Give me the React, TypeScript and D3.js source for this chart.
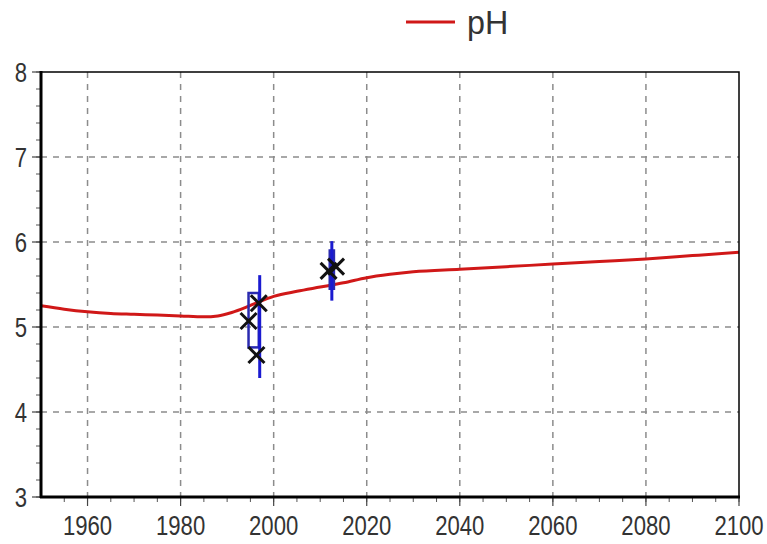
import React from "react";
import * as d3 from "d3";

const lineYears = [1950, 1955, 1960, 1965, 1970, 1975, 1980, 1985, 1988, 1991, 1994, 1997, 2000, 2005, 2010, 2015, 2020, 2025, 2030, 2040, 2050, 2060, 2070, 2080, 2090, 2100];
const lineValues = [5.25, 5.21, 5.18, 5.16, 5.15, 5.14, 5.13, 5.12, 5.13, 5.17, 5.23, 5.3, 5.36, 5.42, 5.47, 5.52, 5.58, 5.62, 5.65, 5.68, 5.71, 5.74, 5.77, 5.8, 5.84, 5.88];

const obsYears = [1994.6, 1996.8, 1996.3, 2011.8, 2013.4];
const obsValues = [5.07, 5.28, 4.67, 5.66, 5.71];

const errYears = [1997, 2012.5];
const errLow = [4.4, 5.31];
const errHigh = [5.61, 6.01];

const boxYears = [1995.7, 2012.5];
const boxWidthYears = [2.2, 0.9];
const boxLow = [4.76, 5.45];
const boxHigh = [5.4, 5.9];

const xTicks = [1960, 1980, 2000, 2020, 2040, 2060, 2080, 2100];
const yTicks = [3, 4, 5, 6, 7, 8];

const W = 767, H = 544;
const L = 41, R = 739, T = 72, B = 497;
const FONT = "'Liberation Sans', Arial, sans-serif";
const SX = 0.82;

export default function App() {
  const x = d3.scaleLinear().domain([1950, 2100]).range([L, R]);
  const y = d3.scaleLinear().domain([3, 8]).range([B, T]);
  const line = d3.line<number>().x((d, i) => x(lineYears[i])).y((d) => y(d)).curve(d3.curveMonotoneX);
  const minorX = d3.range(1955, 2100.1, 5);
  const minorY = d3.range(3, 8.01, 0.2);
  return (
    <div style={{ position: "absolute", left: 0, top: 0 }}>
      <svg width={W} height={H} style={{ display: "block", background: "#fff" }}>
        <rect x={0} y={0} width={W} height={H} fill="#fff" />
        {xTicks.filter((t) => t < 2100).map((t) => (
          <line key={"gx" + t} x1={x(t)} x2={x(t)} y1={T} y2={B} stroke="#8c8c8c" strokeWidth={1.5} strokeDasharray="6,6" />
        ))}
        {yTicks.filter((t) => t > 3 && t < 8).map((t) => (
          <line key={"gy" + t} x1={L} x2={R} y1={y(t)} y2={y(t)} stroke="#8c8c8c" strokeWidth={1.5} strokeDasharray="6,6" />
        ))}
        {minorX.map((t) => (
          <line key={"mx" + t} x1={x(t)} x2={x(t)} y1={B} y2={B + 5} stroke="#555" strokeWidth={1} />
        ))}
        {minorY.map((t) => (
          <line key={"my" + t} x1={L - 5} x2={L} y1={y(t)} y2={y(t)} stroke="#555" strokeWidth={1} />
        ))}
        {xTicks.map((t) => (
          <line key={"tx" + t} x1={x(t)} x2={x(t)} y1={B} y2={B + 9} stroke="#444" strokeWidth={1.2} />
        ))}
        {yTicks.map((t) => (
          <line key={"ty" + t} x1={L - 9} x2={L} y1={y(t)} y2={y(t)} stroke="#444" strokeWidth={1.2} />
        ))}
        <path d={line(lineValues) || ""} fill="none" stroke="#d01818" strokeWidth={3} />
        {boxYears.map((yr, i) => (
          <rect key={"b" + i} x={x(yr - boxWidthYears[i] / 2)} y={y(boxHigh[i])} width={x(yr + boxWidthYears[i] / 2) - x(yr - boxWidthYears[i] / 2)} height={y(boxLow[i]) - y(boxHigh[i])} fill={i === 1 ? "#1a1ac8" : "none"} stroke="#2a2ab0" strokeWidth={2.5} />
        ))}
        {errYears.map((yr, i) => (
          <line key={"e" + i} x1={x(yr)} x2={x(yr)} y1={y(errHigh[i])} y2={y(errLow[i])} stroke="#1a1ad0" strokeWidth={3} />
        ))}
        {obsYears.map((yr, i) => {
          const cx = x(yr), cy = y(obsValues[i]), s = 8;
          return (
            <g key={"o" + i} stroke="#111" strokeWidth={3}>
              <line x1={cx - s} y1={cy - s} x2={cx + s} y2={cy + s} />
              <line x1={cx - s} y1={cy + s} x2={cx + s} y2={cy - s} />
            </g>
          );
        })}
        <rect x={L} y={T} width={R - L} height={B - T} fill="none" stroke="#000" strokeWidth={1.5} />
        <line x1={L} x2={L} y1={T - 1} y2={B + 1} stroke="#000" strokeWidth={3} />
        <line x1={L - 1} x2={R + 1} y1={B} y2={B} stroke="#000" strokeWidth={3} />
        {xTicks.map((t) => (
          <text key={"lx" + t} transform={`translate(${x(t)},535) scale(${SX},1)`} textAnchor="middle" fontFamily={FONT} fontSize={27} fill="#333">{t}</text>
        ))}
        {yTicks.map((t) => (
          <text key={"ly" + t} transform={`translate(27,${y(t) + 10}) scale(${SX},1)`} textAnchor="end" fontFamily={FONT} fontSize={27} fill="#333">{t}</text>
        ))}
        <line x1={406} x2={455} y1={22} y2={22} stroke="#d01818" strokeWidth={3} />
        <text transform={`translate(467,34) scale(0.95,1)`} fontFamily={FONT} fontSize={34} fill="#333">pH</text>
      </svg>
    </div>
  );
}
